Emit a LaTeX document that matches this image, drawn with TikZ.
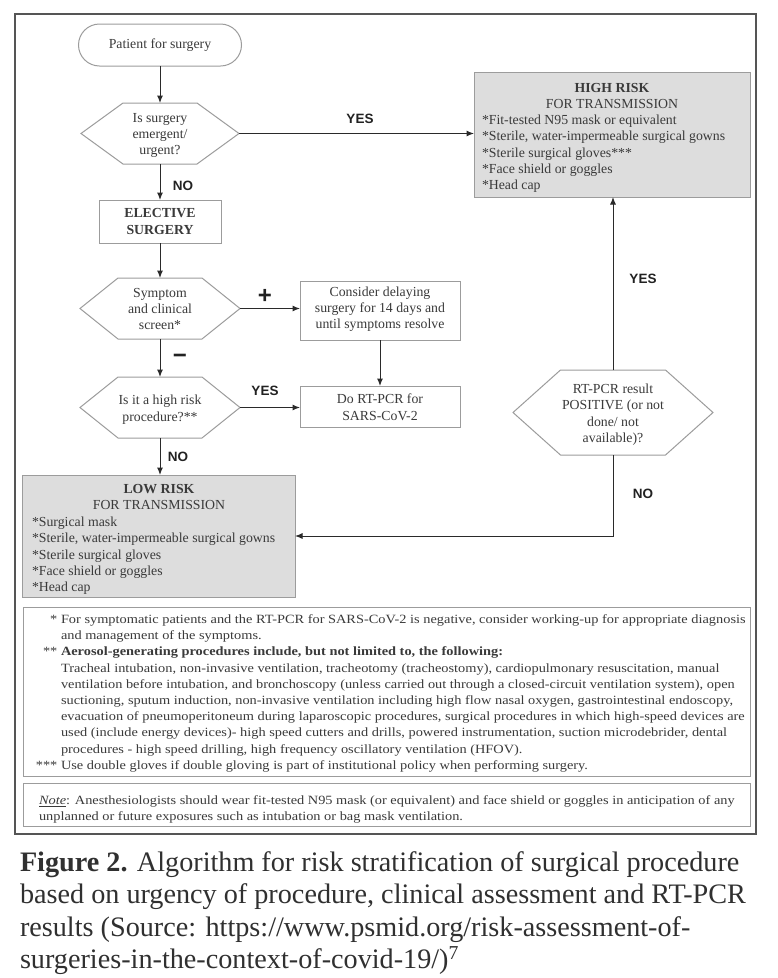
\documentclass[tikz,border=0pt]{standalone}
\usepackage{fontspec}
\setmainfont{Liberation Serif}
\newfontfamily\lsans{Liberation Sans}
\newfontfamily\fnfont[FakeStretch=1.14]{Liberation Serif}
\usetikzlibrary{arrows.meta,calc}
\definecolor{txt}{HTML}{3A3A3A}
\definecolor{captc}{HTML}{303030}
\definecolor{framec}{HTML}{555555}
\definecolor{bord}{HTML}{9C9C9C}
\definecolor{fillg}{HTML}{DDDDDD}
\definecolor{arrc}{HTML}{2A2A2A}
\definecolor{lab}{HTML}{222222}
\newcommand\fl{\fontsize{13.8}{16.3}\selectfont}
\newcommand\fn{\fnfont\fontsize{12.6}{16.2}\selectfont}
\newcommand\fcap{\fontsize{28.2}{32.4}\selectfont}
% name, cx, cy, half flat width, half height, point extension, text
\newcommand\hexnode[7]{%
  \node[hextext] (#1) at (#2,#3+3) {#7};
  \draw[hexdraw] (#2-#4,#3-#5) -- (#2+#4,#3-#5) -- (#2+#4+#6,#3) -- (#2+#4,#3+#5) -- (#2-#4,#3+#5) -- (#2-#4-#6,#3) -- cycle;
  \coordinate (#1-t) at (#2,#3-#5);
  \coordinate (#1-b) at (#2,#3+#5);
  \coordinate (#1-l) at (#2-#4-#6,#3);
  \coordinate (#1-r) at (#2+#4+#6,#3);
}
\newcommand\lbl[1]{\makebox[24pt][r]{#1\ }}
\begin{document}
\begin{tikzpicture}[x=1pt,y=-1pt,
  every node/.style={inner sep=0pt,outer sep=0pt,text=txt},
  sl/.style={execute at begin node=\strut,execute at end node=\strut},
  hextext/.style={sl,align=center,font=\fl},
  hexdraw/.style={draw=bord,line width=1pt},
  whitebox/.style={draw=bord,line width=1pt,rectangle},
  boxtext/.style={sl,align=center,font=\fl},
  graybox/.style={draw=bord,line width=1pt,fill=fillg,rectangle},
  listtext/.style={sl,align=left,font=\fl},
  headtext/.style={sl,align=center,font=\fl},
  arr/.style={draw=arrc,line width=1pt,-{Latex[length=7.5pt,width=6pt]}},
  yn/.style={font=\lsans\bfseries\fontsize{13.5}{14}\selectfont,text=lab},
  pm/.style={font=\lsans\bfseries\fontsize{24}{24}\selectfont,text=lab},
  boxline/.style={draw=bord,line width=1pt}
]
\useasboundingbox (0,0) rectangle (778,978);
\fill[white] (0,0) rectangle (778,978);
\draw[draw=framec,line width=1.3pt] (15,14) rectangle (756,834);

% flow nodes
\node[draw=bord,line width=1pt,rounded corners=21pt,minimum width=163pt,minimum height=42pt,font=\fl] (pat) at (160,45) {Patient for surgery};
\hexnode{d1}{160}{133.5}{37}{30.5}{42}{Is surgery\\emergent/\\urgent?}
\node[whitebox,minimum width=122pt,minimum height=43pt] (elect) at (160,221.5) {};
\node[boxtext,font=\fl\bfseries] (electtxt) at (160,224) {ELECTIVE\\SURGERY};
\hexnode{d2}{160}{308.5}{42}{30.5}{38}{Symptom\\and clinical\\screen*}
\hexnode{d3}{160}{407.5}{42}{30.5}{38}{Is it a high risk\\procedure?**}
\node[whitebox,minimum width=160pt,minimum height=59pt] (cons) at (380,310.5) {};
\node[boxtext] (constxt) at (380,310) {Consider delaying\\surgery for 14 days and\\until symptoms resolve};
\node[whitebox,minimum width=160pt,minimum height=41pt] (rt) at (380,406.5) {};
\node[boxtext] (rttxt) at (380,409.5) {Do RT-PCR for\\SARS-CoV-2};
\hexnode{d4}{613}{412.5}{52.5}{42.5}{47.5}{RT-PCR result\\POSITIVE (or not\\done/ not\\available)?}

% high risk box
\node[graybox,minimum width=276pt,minimum height=125pt] (high) at (612,134.5) {};
\node[headtext,anchor=north] (highhead) at (612,83.4) {\textbf{HIGH RISK}\\FOR TRANSMISSION};
\node[listtext,anchor=north west] (highlist) at (482,115) {*Fit-tested N95 mask or equivalent\\*Sterile, water-impermeable surgical gowns\\*Sterile surgical gloves***\\*Face shield or goggles\\*Head cap};

% low risk box
\node[graybox,minimum width=273pt,minimum height=122pt] (low) at (158.5,536) {};
\node[headtext,anchor=north] (lowhead) at (159,483.9) {\textbf{LOW RISK}\\FOR TRANSMISSION};
\node[listtext,anchor=north west] (lowlist) at (32,517) {*Surgical mask\\*Sterile, water-impermeable surgical gowns\\*Sterile surgical gloves\\*Face shield or goggles\\*Head cap};

% connectors
\draw[arr] (pat) -- (d1-t);
\draw[arr] (d1-r) -- (high.west |- d1-r);
\draw[arr] (d1-b) -- (elect);
\draw[arr] (elect) -- (d2-t);
\draw[arr] (d2-r) -- (cons.west |- d2-r);
\draw[arr] (cons) -- (rt);
\draw[arr] (d2-b) -- (d3-t);
\draw[arr] (d3-r) -- (rt.west |- d3-r);
\draw[arr] (d3-b) -- (d3-b |- low.north);
\draw[arr] (d4-t) -- (d4-t |- high.south);
\draw[arr] (d4-b) |- (low.east);

% labels
\node[yn] (yes1) at (360,119) {YES};
\node[yn] (no1) at (183,186) {NO};
\node[pm] (plus) at (265,296) {+};
\node[pm] (minus) at (180,359) {−};
\node[yn] (yes2) at (265,391) {YES};
\node[yn] (no2) at (178,457) {NO};
\node[yn] (yes3) at (643,279) {YES};
\node[yn] (no3) at (643,494) {NO};

% footnotes
\draw[boxline] (23,607) rectangle (750,776);
\node[sl,align=left,anchor=north west,font=\fn] (foot) at (37,614.7) {%
\lbl{*}For symptomatic patients and the RT-PCR for SARS-CoV-2 is negative, consider working-up for appropriate diagnosis\\
\lbl{}and management of the symptoms.\\
\lbl{**}\textbf{Aerosol-generating procedures include, but not limited to, the following:}\\
\lbl{}Tracheal intubation, non-invasive ventilation, tracheotomy (tracheostomy), cardiopulmonary resuscitation, manual\\
\lbl{}ventilation before intubation, and bronchoscopy (unless carried out through a closed-circuit ventilation system), open\\
\lbl{}suctioning, sputum induction, non-invasive ventilation including high flow nasal oxygen, gastrointestinal endoscopy,\\
\lbl{}evacuation of pneumoperitoneum during laparoscopic procedures, surgical procedures in which high-speed devices are\\
\lbl{}used (include energy devices)- high speed cutters and drills, powered instrumentation, suction microdebrider, dental\\
\lbl{}procedures - high speed drilling, high frequency oscillatory ventilation (HFOV).\\
\lbl{***}Use double gloves if double gloving is part of institutional policy when performing surgery.};

\draw[boxline] (23,783) rectangle (750,826);
\node[sl,align=left,anchor=north west,font=\fn] (note) at (39,795.7) {%
\underline{\textit{Note}}: Anesthesiologists should wear fit-tested N95 mask (or equivalent) and face shield or goggles in anticipation of any\\
unplanned or future exposures such as intubation or bag mask ventilation.};

% caption
\node[sl,align=left,anchor=north west,font=\fcap,text=captc] (cap) at (20,851.5) {%
\textbf{Figure 2.} Algorithm for risk stratification of surgical procedure\\
based on urgency of procedure, clinical assessment and RT-PCR\\
results (Source: https://www.psmid.org/risk-assessment-of-\\
surgeries-in-the-context-of-covid-19/)\textsuperscript{7}};
\end{tikzpicture}
\end{document}
